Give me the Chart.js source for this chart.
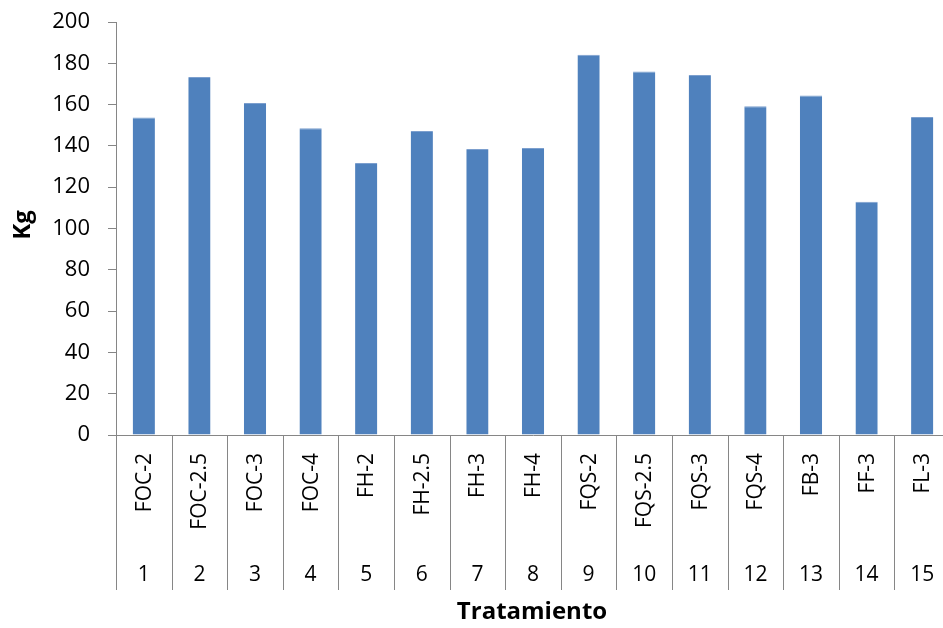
<!DOCTYPE html>
<html>
<head>
<meta charset="utf-8">
<script src="https://cdn.jsdelivr.net/npm/chart.js@4/dist/chart.umd.min.js"></script>
<style>
  html, body { margin: 0; padding: 0; background: #fff; overflow: hidden; }
  canvas { display: block; }
</style>
</head>
<body>
<canvas id="c" width="952" height="628"></canvas>
<script>
// Treatments (upper label row) and their sequence numbers (lower label row)
const treatments = ['FOC-2', 'FOC-2.5', 'FOC-3', 'FOC-4', 'FH-2', 'FH-2.5', 'FH-3', 'FH-4',
  'FQS-2', 'FQS-2.5', 'FQS-3', 'FQS-4', 'FB-3', 'FF-3', 'FL-3'];
const treatmentNumbers = ['1', '2', '3', '4', '5', '6', '7', '8', '9', '10', '11', '12', '13', '14', '15'];
// Weight per treatment, kg
const weightKg = [153.7, 173.4, 160.8, 148.5, 131.7, 147.2, 138.5, 139.0,
  184.1, 176.0, 174.3, 159.2, 164.4, 112.9, 154.0];
const yTicks = [0, 20, 40, 60, 80, 100, 120, 140, 160, 180, 200];

const FONT = '"Open Sans", Lato, sans-serif';
const AXIS_GRAY = '#868686';

// Draws the two-row category axis (rotated names, then numbers) with separators,
// and both axis titles.
const multiLevelAxis = {
  id: 'multiLevelAxis',
  afterDraw(chart) {
    const ctx = chart.ctx;
    const x = chart.scales.x;
    const area = chart.chartArea;
    const n = treatments.length;
    const step = (x.getPixelForValue(1) - x.getPixelForValue(0));
    const sepBottom = area.bottom + 155;
    ctx.save();
    ctx.strokeStyle = AXIS_GRAY;
    ctx.lineWidth = 1;
    for (let i = 0; i <= n; i++) {
      const px = Math.round(x.getPixelForValue(i) - step / 2) + 0.5;
      ctx.beginPath();
      ctx.moveTo(px, area.bottom);
      ctx.lineTo(px, sepBottom);
      ctx.stroke();
    }
    ctx.fillStyle = '#000';
    ctx.font = '21px ' + FONT;
    for (let i = 0; i < n; i++) {
      const cx = x.getPixelForValue(i);
      // rotated treatment name, reading bottom-to-top, its end near the axis
      ctx.save();
      ctx.translate(cx + 1, area.bottom + 18);
      ctx.rotate(-Math.PI / 2);
      ctx.textAlign = 'right';
      ctx.textBaseline = 'middle';
      ctx.fillText(treatments[i], 0, 0);
      ctx.restore();
      // sequence number
      ctx.textAlign = 'center';
      ctx.textBaseline = 'middle';
      ctx.fillText(treatmentNumbers[i], cx, area.bottom + 140);
    }
    // axis titles
    ctx.font = 'bold 24px ' + FONT;
    ctx.textAlign = 'center';
    ctx.textBaseline = 'middle';
    ctx.fillText('Tratamiento', 532, 612);
    ctx.save();
    ctx.translate(23, 225);
    ctx.rotate(-Math.PI / 2);
    ctx.fillText('Kg', 0, 0);
    ctx.restore();
    ctx.restore();
  }
};

new Chart(document.getElementById('c'), {
  type: 'bar',
  data: {
    labels: treatments,
    datasets: [{
      label: 'Kg',
      data: weightKg,
      backgroundColor: '#4F81BD',
      borderColor: '#7C9FCE',
      borderWidth: { top: 1, left: 0, right: 0, bottom: 0 },
      borderSkipped: 'bottom',
      barPercentage: 0.4,
      categoryPercentage: 1.0
    }]
  },
  options: {
    responsive: false,
    animation: false,
    devicePixelRatio: 1,
    layout: { padding: { top: 22, right: 2, bottom: 0, left: 0 } },
    plugins: {
      legend: { display: false },
      tooltip: { enabled: false },
      title: { display: false }
    },
    scales: {
      x: {
        grid: { display: false },
        border: { display: true, color: AXIS_GRAY, width: 1 },
        ticks: { display: false },
        afterFit(scale) { scale.height = 193; }
      },
      y: {
        min: 0,
        max: 200,
        afterBuildTicks(scale) { scale.ticks = yTicks.map(v => ({ value: v })); },
        grid: {
          drawOnChartArea: false,
          drawTicks: true,
          tickLength: 8,
          color: AXIS_GRAY
        },
        border: { display: true, color: AXIS_GRAY, width: 1 },
        ticks: {
          color: '#000',
          padding: 18,
          font: { family: FONT, size: 22 }
        },
        afterFit(scale) {
          scale.width = 116;
          scale.paddingTop = 0;
          scale.paddingBottom = 0;
        }
      }
    }
  },
  plugins: [multiLevelAxis]
});
</script>
</body>
</html>
